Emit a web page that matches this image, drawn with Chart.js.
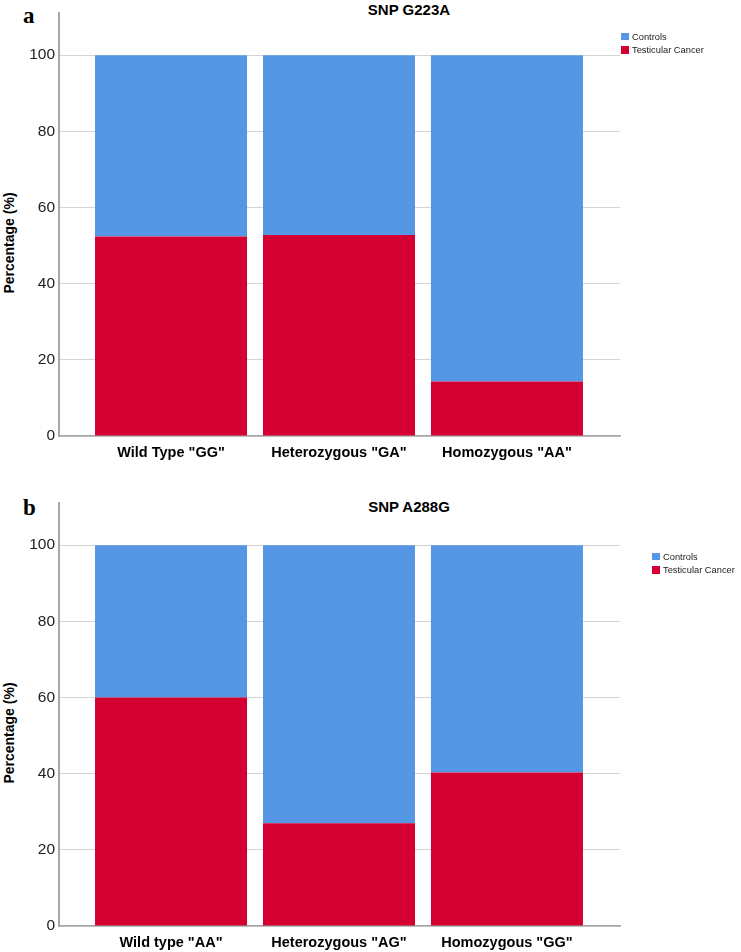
<!DOCTYPE html>
<html>
<head>
<meta charset="utf-8">
<script src="https://cdn.jsdelivr.net/npm/chart.js@4.4.1/dist/chart.umd.min.js"></script>
<style>
  html, body { margin: 0; padding: 0; background: #fff; }
  #page { position: relative; width: 741px; height: 952px; overflow: hidden; font-family: "Liberation Sans", Arial, sans-serif; }
  canvas { position: absolute; left: 0; }
  .panel { position: absolute; left: 23px; font-family: "Liberation Serif", "Times New Roman", serif; font-weight: bold; font-size: 23px; line-height: 23px; }
  .title { position: absolute; left: 309px; width: 200px; text-align: center; font-weight: bold; font-size: 15px; line-height: 15px; }
  .ytitle { position: absolute; left: 9px; font-weight: bold; font-size: 14px; line-height: 14px; white-space: nowrap; transform: translate(-50%, -50%) rotate(-90deg); }
  .legend { position: absolute; font-size: 9.3px; color: #222; }
  .legend .row { display: flex; align-items: center; height: 13.3px; }
  .legend .box { width: 7.5px; height: 7.5px; margin-right: 3.5px; }
</style>
</head>
<body>
<div id="page">
  <div class="panel" style="top:4px">a</div>
  <div class="title" style="top:2px">SNP G223A</div>
  <div class="ytitle" style="top:243px">Percentage (%)</div>
  <canvas id="chartA" width="741" height="470" style="top:0px"></canvas>
  <div class="legend" id="legendA" style="left:621px; top:30px"></div>

  <div class="panel" style="top:496px">b</div>
  <div class="title" style="top:499px">SNP A288G</div>
  <div class="ytitle" style="top:733px">Percentage (%)</div>
  <canvas id="chartB" width="741" height="470" style="top:490px"></canvas>
  <div class="legend" id="legendB" style="left:652px; top:550px"></div>
</div>
<script>
// panel a: SNP G223A
const categoriesA = ['Wild Type "GG"', 'Heterozygous "GA"', 'Homozygous "AA"'];
const cancerA = [52.4, 52.8, 14.3];
const controlsA = [47.6, 47.2, 85.7];

// panel b: SNP A288G
const categoriesB = ['Wild type "AA"', 'Heterozygous "AG"', 'Homozygous "GG"'];
const cancerB = [60.0, 27.0, 40.3];
const controlsB = [40.0, 73.0, 59.7];

const yTicks = [0, 20, 40, 60, 80, 100];
const seriesNames = ['Controls', 'Testicular Cancer'];
const blue = 'rgb(85, 150, 229)';
const red = 'rgb(213, 0, 50)';

const makeChart = (canvasId, legendId, categories, cancer, controls) => {
    const toPoints = (vals) => vals.map((v, i) => ({ x: i, y: v }));

    const chart = new Chart(document.getElementById(canvasId), {
        type: 'bar',
        data: {
            datasets: [
                { label: seriesNames[1], data: toPoints(cancer), backgroundColor: red, borderWidth: 0 },
                { label: seriesNames[0], data: toPoints(controls), backgroundColor: blue, borderWidth: 0 },
            ]
        },
        options: {
            responsive: false,
            animation: false,
            devicePixelRatio: 1,
            barPercentage: 0.905,
            categoryPercentage: 1,
            layout: { padding: { top: 10, right: 121, left: 0, bottom: 0 } },
            plugins: { legend: { display: false }, tooltip: { enabled: false } },
            scales: {
                x: {
                    type: 'linear',
                    stacked: true,
                    offset: false,
                    bounds: 'data',
                    min: -0.667,
                    max: 2.673,
                    grid: { display: false, offset: false },
                    border: { color: '#a6a6a6', width: 1.5 },
                    afterBuildTicks: (scale) => {
                        scale.ticks = categories.map((c, i) => ({ value: i }));
                    },
                    afterFit: (scale) => { scale.height = 34; },
                    ticks: {
                        autoSkip: false,
                        maxRotation: 0,
                        padding: 0,
                        color: '#000',
                        font: { family: 'Liberation Sans', size: 14.5, weight: 'bold' },
                        callback: (v) => categories[v]
                    }
                },
                y: {
                    stacked: true,
                    min: 0,
                    max: 111,
                    grid: { color: '#d4d4d4', lineWidth: 1, drawTicks: false },
                    border: { color: '#a6a6a6', width: 2 },
                    afterBuildTicks: (scale) => {
                        scale.ticks = yTicks.map(v => ({ value: v }));
                    },
                    afterFit: (scale) => { scale.width = 59; },
                    ticks: {
                        padding: 4,
                        color: '#222',
                        font: { family: 'Liberation Sans', size: 15.5 }
                    }
                }
            }
        }
    });

    // legend in the order shown in the picture
    const legend = document.getElementById(legendId);
    [1, 0].forEach(i => {
        const ds = chart.data.datasets[i];
        const row = document.createElement('div');
        row.className = 'row';
        const box = document.createElement('span');
        box.className = 'box';
        box.style.background = ds.backgroundColor;
        const txt = document.createElement('span');
        txt.textContent = ds.label;
        row.appendChild(box);
        row.appendChild(txt);
        legend.appendChild(row);
    });
    return chart;
};

makeChart('chartA', 'legendA', categoriesA, cancerA, controlsA);
makeChart('chartB', 'legendB', categoriesB, cancerB, controlsB);
</script>
</body>
</html>
